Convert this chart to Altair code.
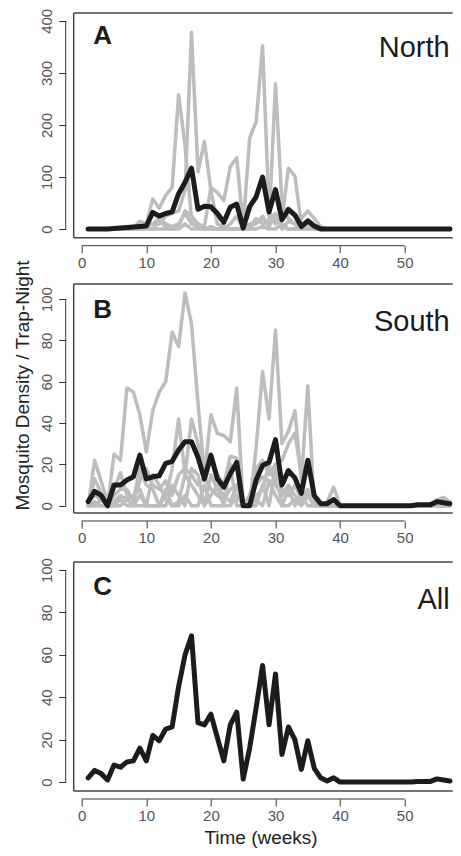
import altair as alt
import pandas as pd

FONT = "Liberation Sans"
weeks = list(range(1, 58))

# ---------------- Panel A: North ----------------
north_mean = [0, 0, 0, 0, 1, 2, 3, 4, 5, 6,
              32, 25, 30, 33, 68, 90, 117, 38, 44, 43,
              30, 13, 42, 48, 2, 43, 62, 100, 33, 76,
              18, 38, 27, 5, 16, 6, 0, 0, 0, 0,
              0, 0, 0, 0, 0, 0, 0, 0, 0, 0,
              0, 0, 0, 0, 0, 0, 0]
north_site1 = [0, 0, 0, 0, 0, 0, 0, 0, 5, 8,
               58, 40, 65, 80, 258, 160, 20, 10, 5, 80,
               70, 55, 120, 137, 5, 175, 206, 352, 36, 10,
               20, 117, 102, 10, 10, 0, 0, 0, 0, 0,
               0, 0, 0, 0, 0, 0, 0, 0, 0, 0,
               0, 0, 0, 0, 0, 0, 0]
north_site2 = [0, 0, 0, 0, 0, 0, 0, 0, 3, 5,
               10, 10, 25, 30, 35, 75, 378, 110, 168, 75,
               10, 5, 0, 0, 0, 5, 20, 10, 11, 279,
               49, 20, 10, 0, 0, 0, 0, 0, 0, 0,
               0, 0, 0, 0, 0, 0, 0, 0, 0, 0,
               0, 0, 0, 0, 0, 0, 0]
north_site3 = [0, 0, 0, 0, 0, 0, 0, 2, 15, 10,
               10, 20, 10, 5, 10, 30, 10, 5, 0, 0,
               0, 0, 10, 25, 0, 0, 15, 20, 10, 20,
               5, 0, 0, 20, 35, 20, 5, 0, 0, 0,
               0, 0, 0, 0, 0, 0, 0, 0, 0, 0,
               0, 0, 0, 0, 0, 0, 0]
north_site4 = [0, 0, 0, 0, 0, 0, 0, 0, 0, 0,
               0, 15, 5, 0, 5, 35, 25, 10, 0, 5,
               0, 5, 0, 0, 0, 10, 10, 25, 5, 30,
               0, 15, 10, 0, 10, 0, 0, 0, 0, 0,
               0, 0, 0, 0, 0, 0, 0, 0, 0, 0,
               0, 0, 0, 0, 0, 0, 0]
north_site5 = [0, 0, 0, 0, 0, 0, 0, 0, 0, 0,
               0, 0, 0, 0, 0, 10, 0, 0, 0, 0,
               0, 0, 0, 0, 0, 0, 0, 5, 0, 0,
               10, 0, 0, 0, 0, 5, 0, 0, 0, 0,
               0, 0, 0, 0, 0, 0, 0, 0, 0, 0,
               0, 0, 0, 0, 0, 0, 0]

# ---------------- Panel B: South ----------------
south_mean = [2, 7, 5, 0, 10, 10, 12.5, 14, 24.5, 13,
              14, 14.5, 20.5, 21.5, 27, 31, 31, 23.5, 13, 24.5,
              13, 9, 15.5, 21, 0, 0, 12.5, 19.5, 21, 32,
              10, 17, 13.5, 6, 22, 5, 1, 1, 3, 0,
              0, 0, 0, 0, 0, 0, 0, 0, 0, 0,
              0, 0.5, 0.5, 0.5, 2, 1.5, 1]
south_site1 = [0, 0, 3, 0, 25, 22, 57, 55, 44, 26,
               46, 55, 60, 84, 77, 103, 88, 50, 15, 44,
               35, 34, 31, 57, 0, 0, 28, 65, 42, 85,
               30, 36, 46, 12, 58, 0, 0, 0, 0, 0,
               0, 0, 0, 0, 0, 0, 0, 0, 0, 0,
               0, 0, 0, 1, 3, 4, 2]
south_site2 = [0, 22, 12, 2, 8, 16, 5, 3, 18, 10,
               8, 0, 5, 18, 42, 15, 42, 30, 12, 22,
               15, 10, 24, 23, 0, 5, 18, 22, 15, 20,
               22, 30, 35, 15, 20, 5, 0, 2, 9, 0,
               0, 0, 0, 0, 0, 0, 0, 0, 0, 0,
               0, 0, 0, 0, 2, 3, 1]
south_site3 = [0, 13, 6, 0, 5, 8, 8, 2, 12, 18,
               10, 8, 12, 5, 15, 18, 15, 10, 14, 8,
               5, 3, 8, 10, 0, 2, 10, 14, 12, 12,
               8, 5, 10, 3, 8, 2, 0, 0, 0, 0,
               0, 0, 0, 0, 0, 0, 0, 0, 0, 0,
               0, 0, 0, 0, 0, 0, 0]
south_site4 = [2, 5, 3, 0, 2, 5, 3, 5, 8, 0,
               15, 10, 3, 0, 2, 15, 10, 5, 0, 5,
               10, 5, 2, 10, 0, 0, 5, 8, 20, 10,
               5, 10, 5, 2, 5, 0, 0, 0, 0, 0,
               0, 0, 0, 0, 0, 0, 0, 0, 0, 0,
               0, 0, 0, 0, 1, 0, 0]
south_site5 = [0, 2, 0, 0, 0, 3, 0, 0, 5, 0,
               0, 0, 8, 0, 0, 5, 0, 0, 10, 0,
               0, 0, 0, 5, 0, 0, 3, 0, 12, 5,
               0, 0, 3, 0, 5, 0, 0, 0, 0, 0,
               0, 0, 0, 0, 0, 0, 0, 0, 0, 0,
               0, 0, 0, 0, 0, 0, 0]
south_site6 = [0, 0, 0, 0, 0, 0, 3, 0, 0, 0,
               0, 0, 0, 10, 5, 0, 18, 15, 0, 15,
               8, 0, 20, 0, 0, 0, 0, 10, 0, 18,
               0, 8, 0, 5, 0, 0, 0, 0, 0, 0,
               0, 0, 0, 0, 0, 0, 0, 0, 0, 0,
               0, 0, 0, 0, 0, 0, 0]

# ---------------- Panel C: All ----------------
all_mean = [2, 5.5, 4, 1, 8, 7, 9.5, 10, 16, 10,
            22, 19.5, 25, 26, 45, 60, 69, 28, 27, 32,
            21, 10, 27, 33, 1.5, 16, 35, 55, 27, 51,
            13, 26, 20, 6, 19.5, 6.5, 2, 0.5, 2, 0,
            0, 0, 0, 0, 0, 0, 0, 0, 0, 0,
            0, 0.3, 0.3, 0.3, 1.5, 1, 0.5]

x_ticks = [0, 10, 20, 30, 40, 50]
yticks_a = [0, 100, 200, 300, 400]
yticks_bc = [0, 20, 40, 60, 80, 100]

# overall canvas (single layered chart, panels placed through scale ranges)
W = 379
H = 840
X_DOMAIN = [-1.24, 57.43]
GREY = "#bdbdbd"
BLACK = "#1c1c1c"
AXC = "#333333"
one = pd.DataFrame({"k": [0]})
xs = alt.Scale(domain=X_DOMAIN, nice=False, zero=False)


def long_sites(site_lists):
    rows = []
    for i, vals in enumerate(site_lists):
        for w, v in zip(weeks, vals):
            rows.append({"week": w, "site": f"s{i}", "value": v})
    return pd.DataFrame(rows)


def panel(site_lists, mean, ydom, yticks, top, bottom, letter, name, extra=None,
          text_top=None):
    if text_top is None:
        text_top = top
    ys = alt.Scale(domain=ydom, range=[bottom, top], nice=False, zero=False)
    xaxis = alt.Axis(values=x_ticks, orient="bottom", offset=(bottom + 8) - H,
                     domain=False, grid=False, tickSize=7,
                     tickColor=AXC, tickWidth=1, labelFontSize=15,
                     labelColor="#555555", labelFont=FONT, labelPadding=3,
                     labelFlush=False, title=None)
    yaxis = alt.Axis(values=yticks, orient="left", offset=8, domain=False,
                     grid=False, tickSize=7, tickColor=AXC, tickWidth=1,
                     labelFontSize=15, labelColor="#555555", labelFont=FONT,
                     labelAngle=270, labelAlign="center", labelBaseline="bottom",
                     labelPadding=4, labelFlush=False, title=None)
    layers = []
    mean_df = pd.DataFrame({"week": weeks, "value": mean})
    if site_lists:
        layers.append(
            alt.Chart(long_sites(site_lists)).mark_line(
                color=GREY, strokeWidth=3.5, strokeJoin="round", strokeCap="round"
            ).encode(x=alt.X("week:Q", scale=xs, axis=xaxis),
                     y=alt.Y("value:Q", scale=ys, axis=yaxis),
                     detail="site:N")
        )
    layers.append(
        alt.Chart(mean_df).mark_line(
            color=BLACK, strokeWidth=5, strokeJoin="round", strokeCap="round"
        ).encode(x=alt.X("week:Q", scale=xs, axis=xaxis),
                 y=alt.Y("value:Q", scale=ys, axis=yaxis))
    )
    # R-style axis lines spanning first to last tick
    layers.append(alt.Chart(one).mark_rule(color=AXC, strokeWidth=1).encode(
        x=alt.datum(x_ticks[0]), x2=alt.datum(x_ticks[-1]), y=alt.value(bottom + 8)))
    layers.append(alt.Chart(one).mark_rule(color=AXC, strokeWidth=1).encode(
        y=alt.datum(yticks[0]), y2=alt.datum(yticks[-1]), x=alt.value(-8)))
    # box (top, bottom, left); right side runs off the figure edge
    for enc in (dict(x=alt.value(0), x2=alt.value(W), y=alt.value(top)),
                dict(x=alt.value(0), x2=alt.value(W), y=alt.value(bottom)),
                dict(x=alt.value(0), y=alt.value(top), y2=alt.value(bottom))):
        layers.append(alt.Chart(one).mark_rule(color="#444444", strokeWidth=1.5).encode(**enc))
    layers.append(alt.Chart(one).mark_text(
        text=letter, font=FONT, fontSize=26, fontWeight="bold", color=BLACK,
        align="left", baseline="alphabetic").encode(x=alt.value(19.6), y=alt.value(text_top + 33.5)))
    layers.append(alt.Chart(one).mark_text(
        text=name, font=FONT, fontSize=29, color=BLACK,
        align="right", baseline="alphabetic").encode(x=alt.value(376), y=alt.value(text_top + 47)))
    if extra:
        layers.extend(extra)
    return alt.layer(*layers)


ytitle = alt.Chart(one).mark_text(
    text="Mosquito Density / Trap-Night", font=FONT, fontSize=19, color="#222222",
    angle=270, align="center", baseline="alphabetic"
).encode(x=alt.value(-44.2), y=alt.value(377.5))

xtitle = alt.Chart(one).mark_text(
    text="Time (weeks)", font=FONT, fontSize=19, color="#222222",
    align="center", baseline="alphabetic"
).encode(x=alt.value(187.3), y=alt.value(836))

pA = panel([north_site1, north_site2, north_site3, north_site4, north_site5],
           north_mean, [-16.5, 415], yticks_a, 5, 229.7, "A", "North", text_top=2)
pB = panel([south_site1, south_site2, south_site3, south_site4, south_site5, south_site6],
           south_mean, [-3.5, 107.3], yticks_bc, 276, 505, "B", "South", extra=[ytitle])
pC = panel(None, all_mean, [-4.2, 103.8], yticks_bc, 554, 783, "C", "All", extra=[xtitle])

chart = alt.layer(pA, pB, pC).resolve_scale(
    y="independent"
).resolve_axis(
    x="independent", y="independent"
).properties(
    width=W, height=H,
    autosize=alt.AutoSizeParams(type="none"),
    padding={"left": 65.7, "top": 0, "right": 0, "bottom": 0}
).configure_view(stroke=None)

chart.save("out.html", embed_options={"renderer": "svg", "actions": False})
